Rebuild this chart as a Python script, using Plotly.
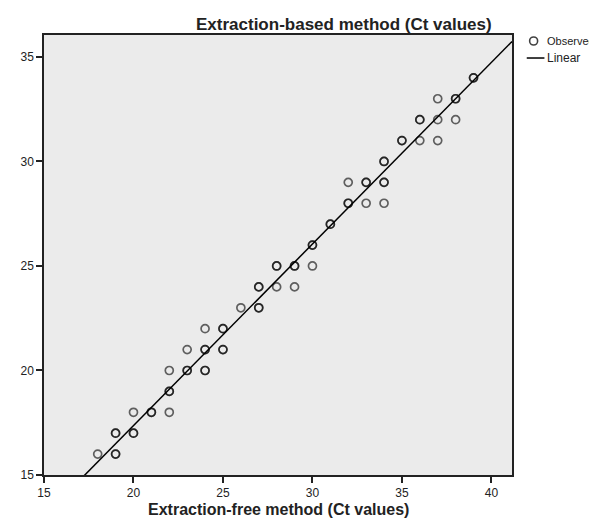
import numpy as np
import plotly.graph_objects as go

# Extraction-free (x) vs extraction-based (y) Ct values; repeated pairs listed twice
free_ct = [18, 19, 19, 19, 19, 20, 20, 20, 21, 21, 22,
           22, 22, 22, 23, 23, 24, 24,
           23, 24, 24, 25, 25, 24, 25, 25,
           26, 27, 27, 27, 27, 28, 29,
           28, 28, 29, 29, 30, 30, 30,
           31, 31, 32, 32, 33, 34,
           32, 33, 33, 34, 34, 34, 34,
           35, 35, 36, 37, 36, 36, 37, 38, 37, 38, 38, 39, 39]
based_ct = [16, 16, 16, 17, 17, 17, 17, 18, 18, 18, 18,
            19, 19, 20, 20, 20, 20, 20,
            21, 21, 21, 21, 21, 22, 22, 22,
            23, 23, 23, 24, 24, 24, 24,
            25, 25, 25, 25, 25, 26, 26,
            27, 27, 28, 28, 28, 28,
            29, 29, 29, 29, 29, 30, 30,
            31, 31, 31, 31, 32, 32, 32, 32, 33, 33, 33, 34, 34]

x_ticks = [15, 20, 25, 30, 35, 40]
y_ticks = [15, 20, 25, 30, 35]
x_range = [15, 41.15]
y_range = [15, 36.05]

slope, intercept = np.polyfit(free_ct, based_ct, 1)
fit_x = np.array(x_range)
fit_y = slope * fit_x + intercept

FONT = "Liberation Sans, Arial, sans-serif"
INK = "#222"
MARK = "rgba(0,0,0,0.6)"

fig = go.Figure()
fig.add_trace(go.Scatter(
    x=free_ct, y=based_ct, mode="markers", name="Observed",
    marker=dict(symbol="circle-open", size=8, color=MARK,
                line=dict(width=1.7, color=MARK)),
))
fig.add_trace(go.Scatter(
    x=fit_x, y=fit_y, mode="lines", name="Linear",
    line=dict(color="black", width=1.5),
))

axis_common = dict(
    showgrid=False, zeroline=False,
    showline=True, mirror=True, linecolor=INK, linewidth=1.5,
    ticks="outside", ticklen=6, tickwidth=1.5, tickcolor=INK,
    tickfont=dict(family=FONT, size=12, color=INK),
)
fig.update_xaxes(range=x_range, tickvals=x_ticks, **axis_common)
fig.update_yaxes(range=y_range, tickvals=y_ticks, **axis_common)

# manual legend placed at the right of the plot, like the original
leg_circle_x, leg_row1_y = 1.0462, 0.9864
leg_line_x0, leg_line_x1, leg_row2_y = 1.0315, 1.0693, 0.9477

shapes = [
    dict(type="circle", xref="paper", yref="paper", xsizemode="pixel", ysizemode="pixel",
         xanchor=leg_circle_x, yanchor=leg_row1_y, x0=-4, x1=4, y0=-4, y1=4,
         line=dict(color="rgba(0,0,0,0.75)", width=1.6)),
    dict(type="line", xref="paper", yref="paper",
         x0=leg_line_x0, x1=leg_line_x1, y0=leg_row2_y, y1=leg_row2_y,
         line=dict(color="black", width=1.5)),
]

fig.update_layout(
    width=589, height=514,
    margin=dict(l=28, r=85, t=27, b=47),
    plot_bgcolor="#ebebeb", paper_bgcolor="white",
    font=dict(family=FONT, color=INK),
    showlegend=False,
    shapes=shapes,
    annotations=[
        dict(text="<b>Extraction-based method (Ct values)</b>", xref="paper", yref="paper",
             x=0.962, y=1.025, xanchor="right", yanchor="middle", showarrow=False,
             font=dict(family=FONT, size=17, color=INK)),
        dict(text="<b>Extraction-free method (Ct values)</b>", xref="paper", yref="paper",
             x=0.5, y=-0.0795, xanchor="center", yanchor="middle", showarrow=False,
             font=dict(family=FONT, size=16, color=INK)),
        dict(text="Observed", xref="paper", yref="paper",
             x=1.0715, y=leg_row1_y, xanchor="left", yanchor="middle", showarrow=False,
             font=dict(family=FONT, size=11, color=INK)),
        dict(text="Linear", xref="paper", yref="paper",
             x=1.0715, y=leg_row2_y, xanchor="left", yanchor="middle", showarrow=False,
             font=dict(family=FONT, size=12, color=INK)),
    ],
)

fig.write_html("out.html")
